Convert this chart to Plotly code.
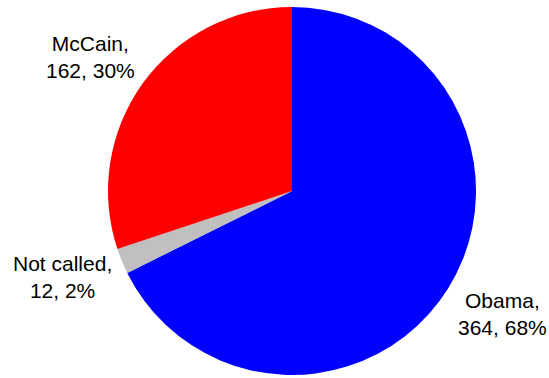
import plotly.graph_objects as go

# 2008 electoral votes
candidates = ["Obama", "Not called", "McCain"]
electoral_votes = [364, 12, 162]
slice_colors = ["#0000FF", "#C0C0C0", "#FF0000"]

# label anchor points in pixel space (x, y from top-left)
label_pos = [(502, 314), (62, 277), (90, 57)]

W, H = 549, 378
total = sum(electoral_votes)

fig = go.Figure(
    go.Pie(
        labels=candidates,
        values=electoral_votes,
        marker=dict(colors=slice_colors, line=dict(width=0)),
        sort=False,
        direction="clockwise",
        rotation=0,
        textinfo="none",
        hoverinfo="label+value+percent",
        domain=dict(x=[107 / W, 477 / W], y=[3 / H, 371 / H]),
        showlegend=False,
    )
)

for name, v, (px, py) in zip(candidates, electoral_votes, label_pos):
    fig.add_annotation(
        x=px / W,
        y=1 - py / H,
        xref="paper",
        yref="paper",
        text=f"{name},<br>{v}, {round(100 * v / total)}%",
        showarrow=False,
        xanchor="center",
        yanchor="middle",
        font=dict(family="Liberation Sans, Arial, sans-serif", size=21, color="#000000"),
    )

fig.update_layout(
    width=W,
    height=H,
    margin=dict(l=0, r=0, t=0, b=0),
    paper_bgcolor="#FFFFFF",
    plot_bgcolor="#FFFFFF",
)

fig.write_html("out.html")
